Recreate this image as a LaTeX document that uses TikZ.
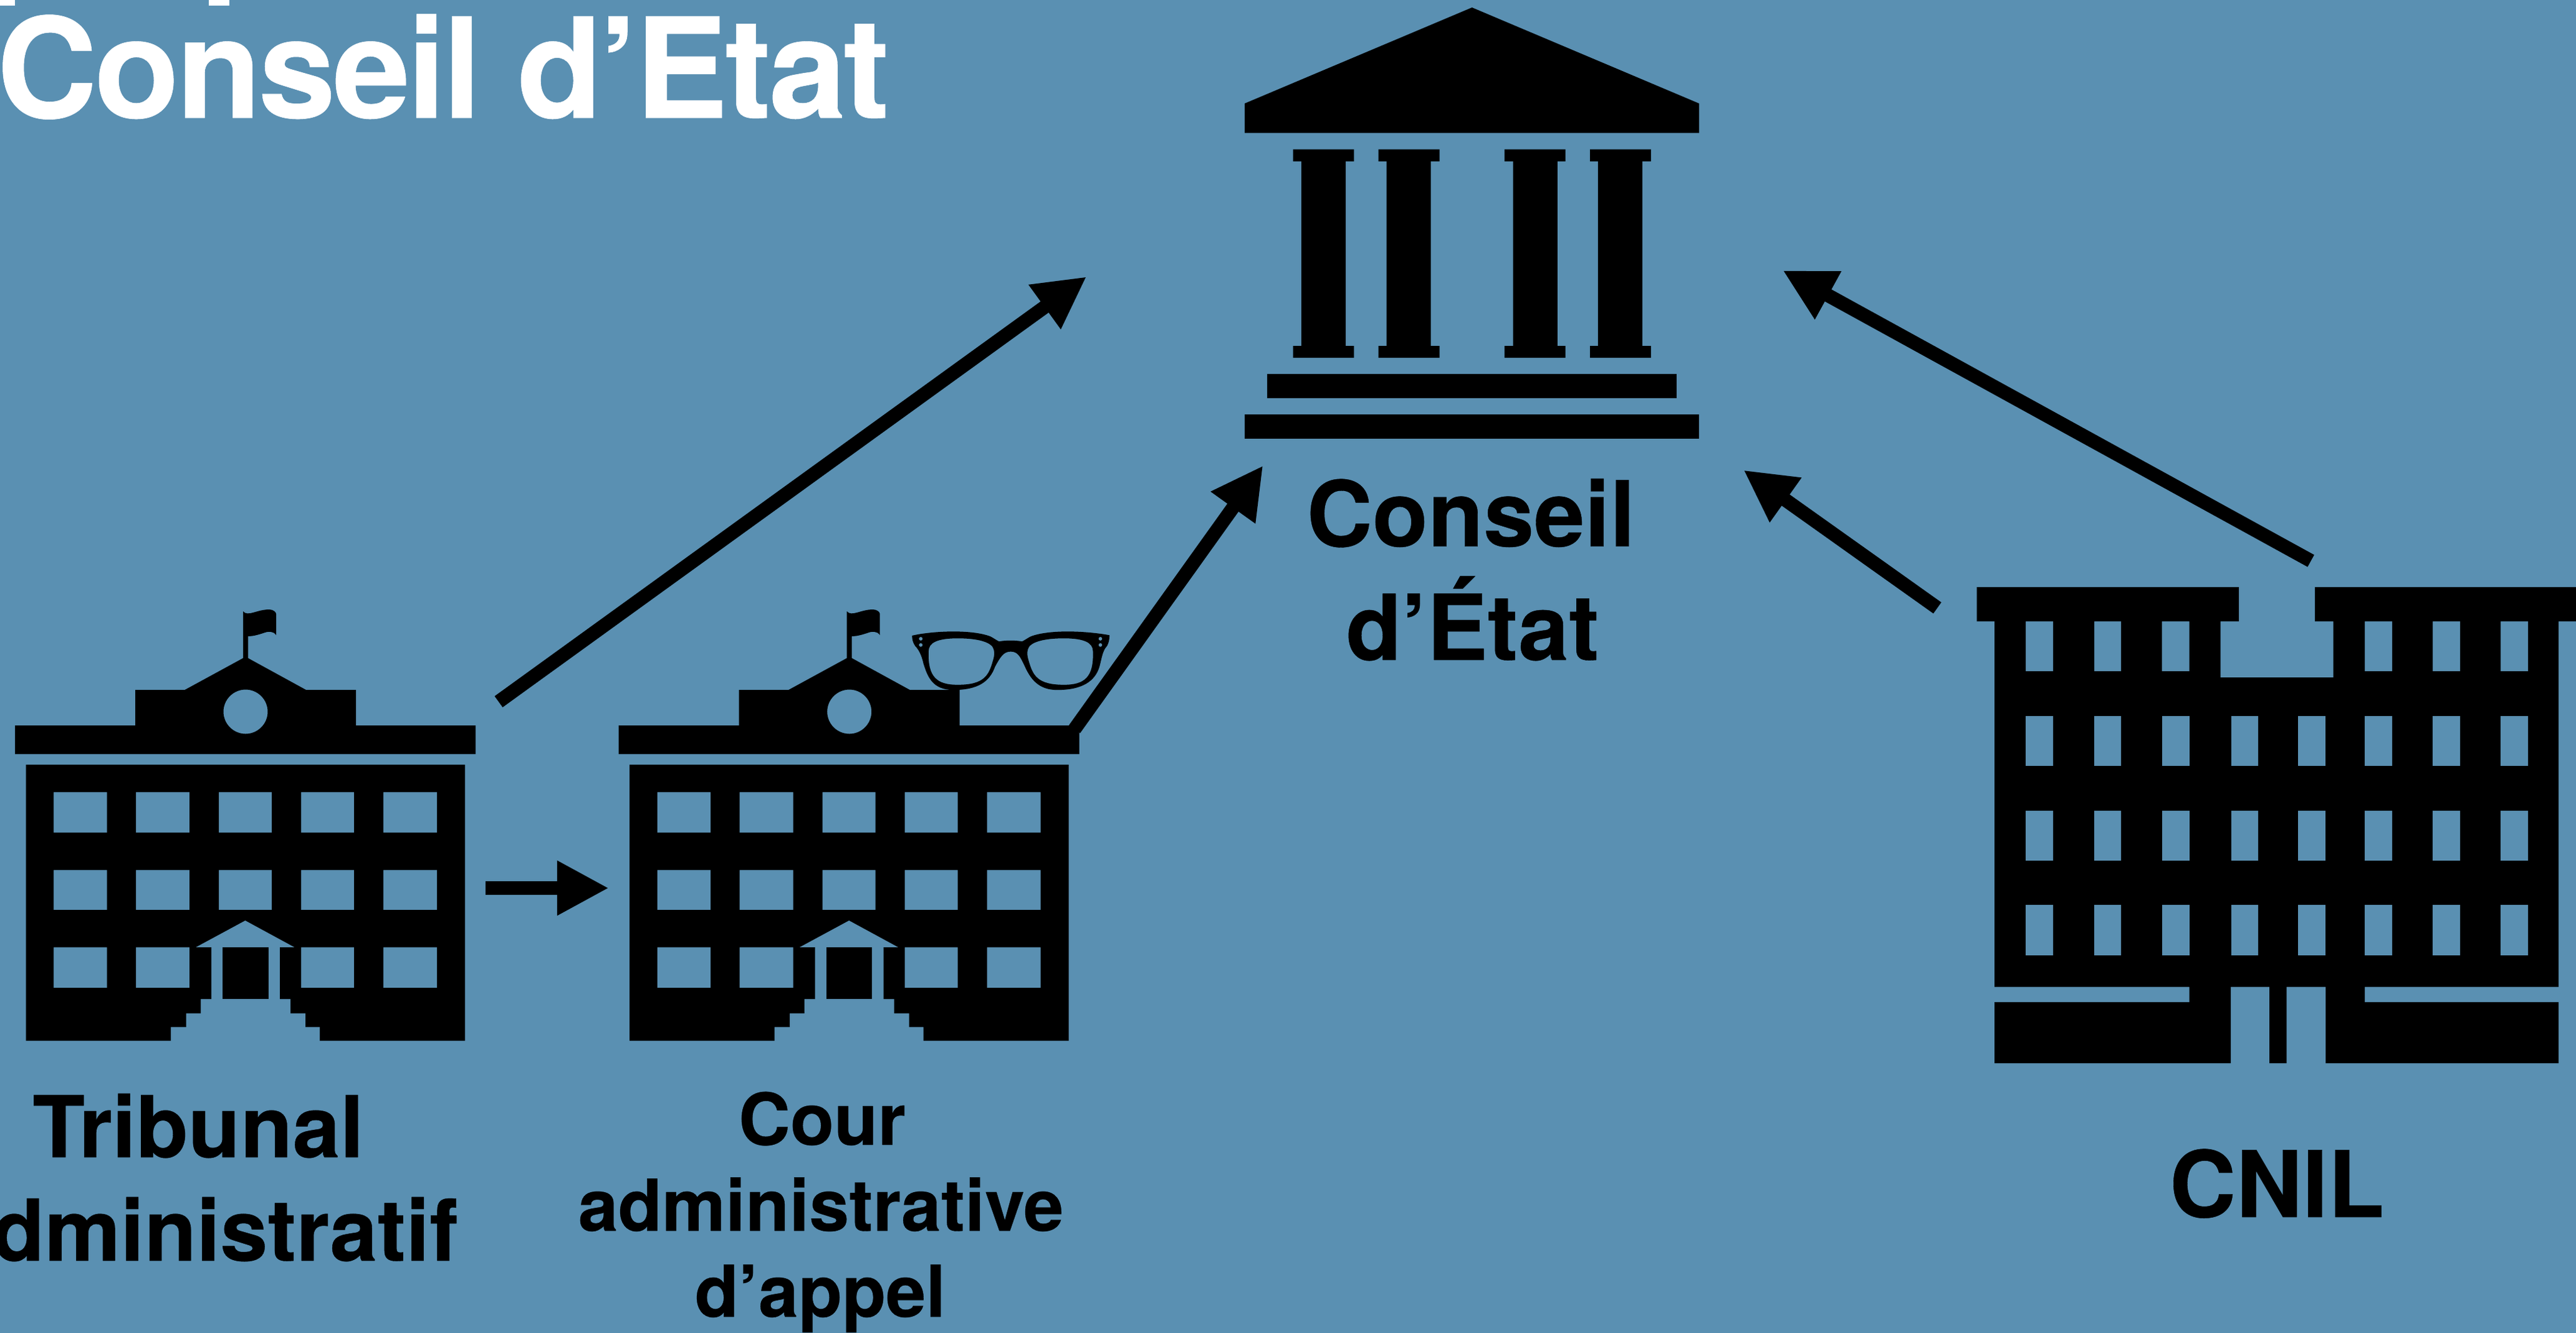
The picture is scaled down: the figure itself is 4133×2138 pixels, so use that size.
\documentclass[tikz,border=0pt]{standalone}
\usepackage{fontspec}
\setmainfont{TeX Gyre Heros}
\newfontfamily\titlefont{TeX Gyre Heros Bold}[LetterSpace=-2.15,FakeBold=0.25]
\newfontfamily\labelfont{TeX Gyre Heros Bold}[FakeBold=0.25]
\usetikzlibrary{arrows.meta}
\definecolor{bgblue}{HTML}{5A90B2}
\newcommand{\lbl}[2]{\labelfont\fontsize{#1}{#1}\selectfont #2}
\tikzset{
  ink/.style={fill=black,draw=none},
  inkhole/.style={fill=black,draw=none,even odd rule},
  conn/.style={draw=black,line width=0.22cm,line cap=butt,-{Triangle[length=0.83cm,width=0.82cm]}},
  lab/.style={anchor=base,inner sep=0pt,outer sep=0pt,text=black},
}
\newcommand{\courtbuilding}[1]{%
\begin{scope}[shift={(#1,0)}]
  % flag and pole
  \path[ink] (390,981) .. controls (398,990) and (412,978) .. (432,978) .. controls (438,978) and (443,982) .. (443,985) -- (443,1019) .. controls (438,1012) and (430,1013) .. (422,1016) .. controls (413,1019) and (405,1021) .. (398,1021) -- (398,1058) -- (390,1058) -- cycle;
  % roof, block and ledge, with round window
  \path[inkhole] (390,1056) -- (398,1056) -- (491,1107) -- (571,1107) -- (571,1164) -- (763,1164) -- (763,1210) -- (24,1210) -- (24,1164) -- (217,1164) -- (217,1107) -- (296.5,1107) -- cycle
    (394,1142) circle [radius=35.5];
  % body with stairs and portico cut away, windows
  \path[inkhole] (41.5,1227) -- (746,1227) -- (746,1670) -- (513,1670) -- (513,1648) -- (490,1648) -- (490,1626) -- (466,1626) -- (466,1603) -- (449,1603) -- (449,1520) -- (472.6,1520) -- (393.5,1477) -- (314,1520) -- (339,1520) -- (339,1603) -- (322,1603) -- (322,1626) -- (298.5,1626) -- (298.5,1648) -- (274,1648) -- (274,1670) -- (41.5,1670) -- cycle
    (86,1271) rectangle (171.5,1336) (218,1271) rectangle (304,1336) (351,1271) rectangle (436,1336) (483,1271) rectangle (568,1336) (615,1271) rectangle (701,1336)
    (86,1396) rectangle (171.5,1460) (218,1396) rectangle (304,1460) (351,1396) rectangle (436,1460) (483,1396) rectangle (568,1460) (615,1396) rectangle (701,1460)
    (86,1520) rectangle (171.5,1585) (218,1520) rectangle (304,1585) (483,1520) rectangle (568,1585) (615,1520) rectangle (701,1585);
  % door
  \path[ink] (357,1520) rectangle (430.5,1603);
\end{scope}}
\begin{document}
\begin{tikzpicture}[x=0.01cm,y=-0.01cm]
\useasboundingbox (0,0) rectangle (4133,2138);
\fill[bgblue] (-10,-10) rectangle (4143,2148);

% cut-off first title line
\fill[white] (0,0) rectangle (24,9);
\fill[white] (335,0) rectangle (368,9);
\node[anchor=base west,inner sep=0pt,text=white] (title) at (-6,189) {\titlefont\fontsize{63.5pt}{63.5pt}\selectfont Conseil d’Etat};

% Conseil d'Etat building
\path[ink] (2361.7,12) -- (2726,166) -- (2726,213.4) -- (1997,213.4) -- (1997,166) -- cycle;
\foreach \c/\s in {2074.5/2087.8,2211.7/2224.5,2413.8/2427.6,2551/2563.8}{
  \path[ink] (\c,239.7) -- ++(97.8,0) -- ++(0,19.2) -- ({\s+71.2},258.9) -- ({\s+71.2},555) -- ({\c+97.8},555) -- ({\c+97.8},574) -- (\c,574) -- (\c,555) -- (\s,555) -- (\s,258.9) -- (\c,258.9) -- cycle;
}
\path[ink] (2033,600) rectangle (2689.8,639);
\path[ink] (1997,664.6) rectangle (2726,703.8);
\node[lab] (ce1) at (2360,876.7) {\lbl{41.5pt}{Conseil}};
\node[lab] (ce2) at (2362.6,1059) {\lbl{41.5pt}{d’État}};

% Two court buildings
\courtbuilding{0}
\courtbuilding{968.7}

% Glasses
\begin{scope}[shift={(1440,990)},x=0.00333cm,y=-0.00333cm]
\path[inkhole] (70,90) .. controls (120,78) and (200,70) .. (270,70) .. controls (340,70) and (410,78) .. (450,95) .. controls (465,103) and (478,113) .. (490,118) .. controls (520,112) and (570,112) .. (600,118) .. controls (612,113) and (625,103) .. (640,95) .. controls (680,78) and (750,70) .. (820,70) .. controls (890,70) and (970,78) .. (1022,88) .. controls (1022,110) and (1018,125) .. (1010,140) .. controls (990,160) and (985,195) .. (975,235) .. controls (955,310) and (890,352) .. (770,352) .. controls (680,352) and (640,300) .. (610,230) .. controls (590,190) and (580,167) .. (545,167) .. controls (510,167) and (495,195) .. (470,240) .. controls (445,310) and (390,352) .. (270,352) .. controls (170,352) and (145,290) .. (125,225) .. controls (115,180) and (100,155) .. (85,140) .. controls (75,125) and (70,110) .. (70,90) -- cycle
  (150,165) .. controls (150,125) and (190,103) .. (290,103) .. controls (370,103) and (430,115) .. (455,140) .. controls (470,160) and (468,185) .. (460,210) .. controls (440,280) and (420,327) .. (290,327) .. controls (190,327) and (145,290) .. (150,165) -- cycle
  (942,165) .. controls (942,125) and (902,103) .. (802,103) .. controls (722,103) and (662,115) .. (637,140) .. controls (622,160) and (624,185) .. (632,210) .. controls (652,280) and (672,327) .. (802,327) .. controls (902,327) and (947,290) .. (942,165) -- cycle
  (112,105) circle [radius=9] (112,135) circle [radius=9] (978,105) circle [radius=9] (978,135) circle [radius=9];
\end{scope}

% CNIL building
\path[inkhole] (3171.6,942) -- (3592,942) -- (3592,997) -- (3562.5,997) -- (3562.5,1087) -- (3743.5,1087) -- (3743.5,997) -- (3714,997) -- (3714,942) -- (4140,942) -- (4140,997) -- (4105,997) -- (4105,1583.5) -- (3794,1583.5) -- (3794,1608) -- (4105,1608) -- (4105,1706) -- (3731.4,1706) -- (3731.4,1583.5) -- (3668.7,1583.5) -- (3668.7,1706) -- (3641,1706) -- (3641,1583.5) -- (3579,1583.5) -- (3579,1706) -- (3200,1706) -- (3200,1608) -- (3512.6,1608) -- (3512.6,1583.5) -- (3200,1583.5) -- (3200,997) -- (3171.6,997) -- cycle
 (3250,997) rectangle (3294,1077) (3360,997) rectangle (3403,1077) (3468.5,997) rectangle (3512.6,1077)
 (3794,997) rectangle (3838,1077) (3903,997) rectangle (3947,1077) (4012,997) rectangle (4056,1077);
\foreach \yy/\yb in {1149/1229,1300.5/1381,1452/1532.5}{
  \foreach \xx/\xb in {3250/3294,3360/3403,3468.5/3512.6,3580/3623,3687/3731.4,3794/3838,3903/3947,4012/4056}{
    \fill[bgblue] (\xx,\yy) rectangle (\xb,\yb);
  }
}

% Labels
\node[lab] (ta1) at (318,1857) {\lbl{39pt}{Tribunal}};
\node[lab,anchor=base east] (ta2) at (735,2023) {\lbl{39pt}{administratif}};
\node[lab] (ca1) at (1319,1837) {\lbl{32.7pt}{Cour}};
\node[lab] (ca2) at (1317,1975) {\lbl{32.7pt}{administrative}};
\node[lab] (ca3) at (1316,2113) {\lbl{32.7pt}{d’appel}};
\node[lab] (cnil) at (3653,1953) {\lbl{42pt}{CNIL}};

% Connectors
\coordinate (a1s) at (800,1126);  \coordinate (a1t) at (1743.3,444);
\coordinate (a2s) at (1724,1170); \coordinate (a2t) at (2026.5,747);
\coordinate (a3s) at (3108.3,975.5);  \coordinate (a3t) at (2797.3,754.3);
\coordinate (a4s) at (3707.6,900);\coordinate (a4t) at (2860.3,434);
\coordinate (a5s) at (779,1425);  \coordinate (a5t) at (977,1425);
\draw[conn] (a1s) -- (a1t);
\draw[conn] (a2s) -- (a2t);
\draw[conn] (a3s) -- (a3t);
\draw[conn] (a4s) -- (a4t);
\draw[conn] (a5s) -- (a5t);
\end{tikzpicture}
\end{document}
